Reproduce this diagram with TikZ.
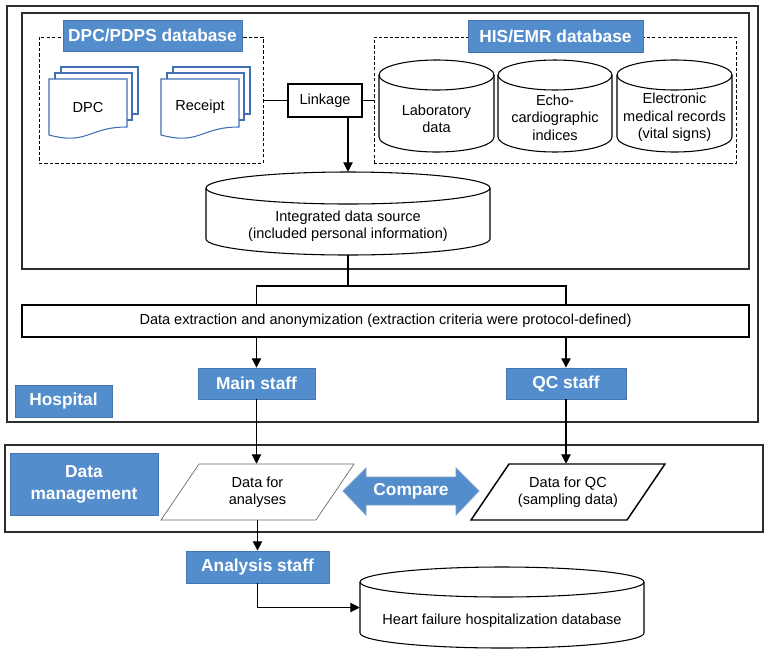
\documentclass[tikz,border=0pt]{standalone}
\usepackage{fontspec}
\setmainfont{Liberation Sans}
\usetikzlibrary{fit,arrows.meta}
\definecolor{lblue}{RGB}{84,141,204}
\definecolor{lbord}{RGB}{70,118,175}
\definecolor{docblue}{RGB}{65,113,180}
\definecolor{frame}{RGB}{45,45,45}
\newcommand\mycyl[5]{%
  \filldraw[fill=white, ln] (#1,#3+#5) -- (#1,#4-#5)
    arc[start angle=180,end angle=0,x radius={(#2-#1)/2},y radius=#5]
    -- (#2,#3+#5)
    arc[start angle=0,end angle=-180,x radius={(#2-#1)/2},y radius=#5] -- cycle;
  \draw[ln] (#1,#3+#5) arc[start angle=180,end angle=0,x radius={(#2-#1)/2},y radius=#5];}
\newcommand\mydocs[2]{%
  \filldraw[fill=white, draw=docblue, line width=0.8pt] (#1+12,#2-12) rectangle (#1+89,#2+35);
  \filldraw[fill=white, draw=docblue, line width=0.8pt] (#1+6,#2-6) rectangle (#1+83,#2+41);
  \filldraw[fill=white, draw=docblue, line width=0.8pt] (#1,#2) -- (#1+78,#2) -- (#1+78,#2+48)
    .. controls (#1+39,#2+48) and (#1+39,#2+66.4) .. (#1,#2+56) -- cycle;}
\begin{document}
\begin{tikzpicture}[x=0.75pt,y=-0.75pt,
  font=\fontsize{10.9}{13}\selectfont,
  lbl/.style={fill=lblue, draw=lbord, line width=0.6pt, inner sep=0pt},
  lbltxt/.style={text=white, font=\fontsize{13}{16.5}\selectfont\bfseries, inner sep=0pt, align=center},
  txt/.style={align=center, inner sep=0pt},
  ln/.style={line width=0.8pt},
  arr/.style={-{Triangle[length=7pt,width=7pt]}, line width=0.8pt},
  bigbox/.style={draw=frame, line width=1.4pt, inner sep=0pt},
  midbox/.style={draw=frame, line width=1.1pt, inner sep=0pt},
  dbox/.style={draw, dash pattern=on 2.5pt off 1.6pt, line width=0.7pt, inner sep=0pt},
  plain/.style={draw, line width=0.8pt, inner sep=0pt},
  ghost/.style={inner sep=0pt}]
\useasboundingbox (0,0) rectangle (767,654);
% frames
\node[bigbox, fit={(7,6)(758,422)}] (hosp) {};
\node[midbox, fit={(22,13)(749,269)}] (inner) {};
\node[bigbox, fit={(5,445)(763,532)}] (dm) {};
% dashed groups
\node[dbox, fit={(39,37)(263,163)}] (dpcbox) {};
\node[dbox, fit={(374,37)(736,163)}] (hisbox) {};
% labels
\node[lbl, fit={(63,20)(242,51)}] (dpclbl) {};
\node[lbltxt] (dpclblt) at (dpclbl.center) {DPC/PDPS database};
\node[lbl, fit={(468,20)(643,52)}] (hislbl) {};
\node[lbltxt] (hislblt) at (hislbl.center) {HIS/EMR database};
% documents
\mydocs{49}{79}
\mydocs{161}{79}
\node[txt] (dpc) at (88,107) {DPC};
\node[txt] (rec) at (200,107) {Receipt};
% linkage
\node[plain, fit={(288,84)(362,117)}] (link) {};
\node[txt] (linkt) at (link.center) {Linkage};
\draw[ln] (dpcbox.east |- link.west) -- (link.west);
\draw[ln] (link.east) -- (link.east -| hisbox.west);
% HIS cylinders
\mycyl{379}{494}{60}{152}{15}
\mycyl{498}{612}{60}{152}{15}
\mycyl{617}{732}{60}{152}{15}
\node[txt] (lab) at (436.5,118.5) {Laboratory\\data};
\node[txt] (echo) at (555,117.5) {Echo-\\cardiographic\\indices};
\node[txt] (emr) at (674.5,117.5) {Electronic\\medical records\\(vital signs)};
% integrated
\mycyl{206}{490}{172}{255}{16}
\node[ghost, fit={(206,172)(490,255)}] (integ) {};
\node[txt] (integtxt) at (348,226.5) {Integrated data source\\(included personal information)};
\draw[arr] (link.south -| integ.north) -- (integ.north);
% extraction
\node[plain, fit={(22,305)(749,337)}] (ext) {};
\node[txt] (extt) at (ext.center) {Data extraction and anonymization (extraction criteria were protocol-defined)};
\node[lbl, fit={(198,368)(315,399)}] (main) {};
\node[lbltxt] (maint) at (main.center) {Main staff};
\node[lbl, fit={(506,368)(626,399)}] (qc) {};
\node[lbltxt] (qct) at (qc.center) {QC staff};
\node[lbl, fit={(15,385)(112,417)}] (hosplbl) {};
\node[lbltxt] (hosplblt) at (hosplbl.center) {Hospital};
\coordinate (split) at (348,286);
\draw[ln] (integ.south) -- (split);
\draw[ln] (main.north |- ext.north) |- (split) -| (qc.north |- ext.north);
\draw[arr] (main.north |- ext.south) -- (main.north);
\draw[arr] (qc.north |- ext.south) -- (qc.north);
% data management
\node[lbl, fit={(10,453)(158,515)}] (dmlbl) {};
\node[lbltxt] (dmlblt) at (dmlbl.center) {Data\\management};
\filldraw[fill=white, draw=black!60, line width=0.5pt] (199,464) -- (354,464) -- (316,520) -- (161,520) -- cycle;
\node[ghost, fit={(161,464)(354,520)}] (dfa) {};
\node[txt] (dfatxt) at (257.5,492) {Data for\\analyses};
\filldraw[fill=white, draw=black, line width=1.1pt] (509,464) -- (665,464) -- (627,520) -- (471,520) -- cycle;
\node[ghost, fit={(471,464)(665,520)}] (dqc) {};
\node[txt] (dqctxt) at (568,492) {Data for QC\\(sampling data)};
\draw[arr] (main.south) -- (main.south |- dfa.north);
\draw[arr] (qc.south) -- (qc.south |- dqc.north);
% compare arrow
\filldraw[fill=lblue, draw=lbord!70!white, line width=0.6pt]
  (343,491) -- (366,468) -- (366,477) -- (456,477) -- (456,468) -- (479,491)
  -- (456,515) -- (456,505) -- (366,505) -- (366,515) -- cycle;
\node[lbltxt] (cmp) at (411,491) {Compare};
% analysis
\node[lbl, fit={(186,551)(329,583)}] (anal) {};
\node[lbltxt] (analt) at (anal.center) {Analysis staff};
\draw[arr] (dfa.south -| anal.north) -- (anal.north);
\mycyl{360}{644}{567}{648}{15}
\node[ghost, fit={(360,567)(644,648)}] (hf) {};
\node[txt] (hftxt) at (502,621) {Heart failure hospitalization database};
\draw[arr] (anal.south) |- (hf.west);
\end{tikzpicture}
\end{document}
